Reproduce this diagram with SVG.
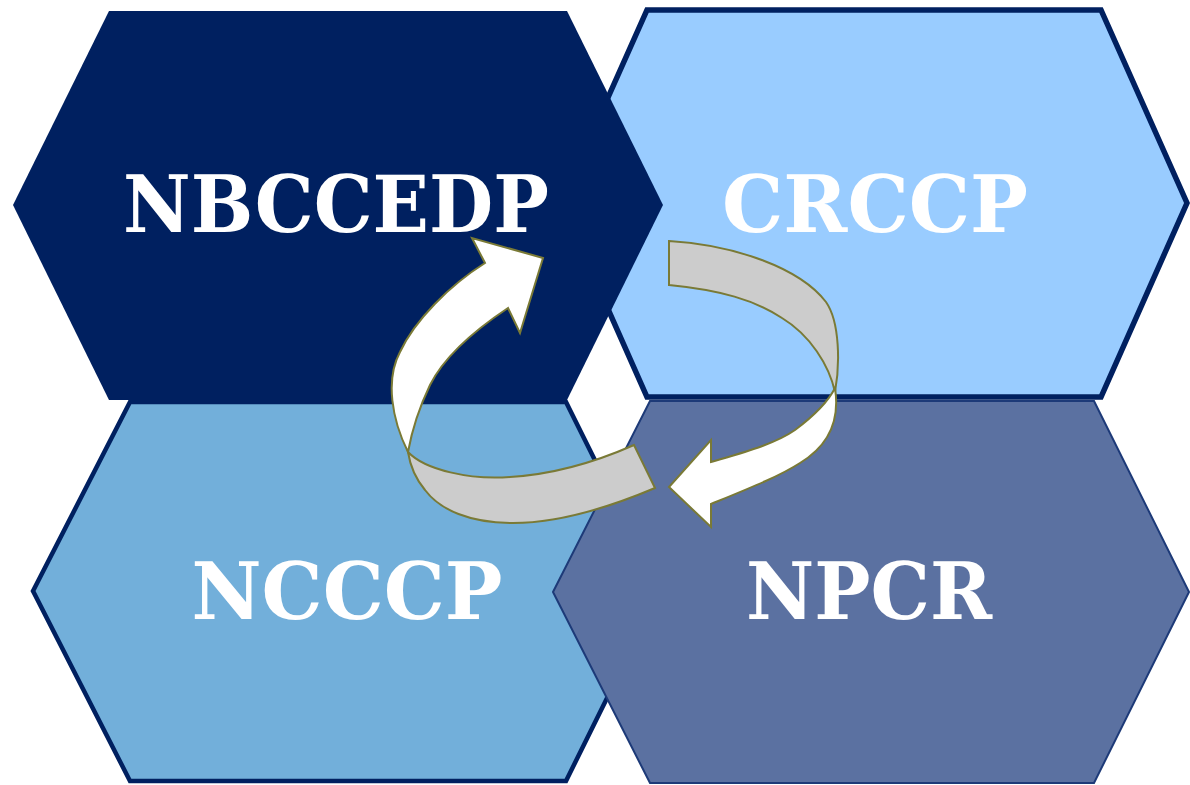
<svg xmlns="http://www.w3.org/2000/svg" width="1190" height="785" viewBox="0 0 1190 785">
  <style>
    .lbl { font-family: "DejaVu Serif", "Liberation Serif", serif; font-weight: bold; font-size: 78px; fill: #ffffff; text-anchor: middle; }
    .rib { stroke: #7a7a36; stroke-width: 2; stroke-linejoin: miter; }
    .front { fill: #ffffff; }
    .back { fill: #cccccc; }
  </style>
  <rect width="1190" height="785" fill="#ffffff"/>
  <g id="node-crccp">
    <polygon points="561,203 647,10 1101,10 1187,203 1101,397 647,397" fill="#99ccff" stroke="#002060" stroke-width="5.5"/>
    <text class="lbl" x="875" y="232" textLength="306" lengthAdjust="spacingAndGlyphs">CRCCP</text>
  </g>
  <g id="node-nbccedp">
    <polygon points="13,205 109,11 567,11 663,205 567,400 109,400" fill="#002060"/>
    <text class="lbl" x="336" y="232" textLength="426" lengthAdjust="spacingAndGlyphs">NBCCEDP</text>
  </g>
  <g id="node-ncccp">
    <polygon points="33,591 130,402 566,402 660,591 566,781 130,781" fill="#72afda" stroke="#002060" stroke-width="4.5"/>
    <text class="lbl" x="347" y="619" textLength="311" lengthAdjust="spacingAndGlyphs">NCCCP</text>
  </g>
  <g id="node-npcr">
    <polygon points="553,592 650,401 1094,401 1189,592 1094,783 650,783" fill="#5b71a1" stroke="#1d3a78" stroke-width="2"/>
    <text class="lbl" x="869" y="619" textLength="246" lengthAdjust="spacingAndGlyphs">NPCR</text>
  </g>
  <g id="connectors">
    <!-- left ribbon: back band then front arrow -->
    <path class="rib back" d="M408,452 C425,470 470,480 510,477 C560,474 600,460 634,445 L655,488 C610,507 560,523 513,523 C470,523 440,510 425,490 C415,478 410,465 408,452 Z"/>
    <path class="rib front" d="M408,452 C392,420 385,380 400,352 C415,320 450,285 485,263 L472,238 L543,258 L520,333 L508,308 C475,330 445,355 430,385 C418,410 412,430 408,452 Z"/>
    <!-- right ribbon: back band then front arrow -->
    <path class="rib back" d="M669,241 C735,245 800,268 826,302 C840,322 840,365 835,392 C829,365 810,335 782,318 C755,300 720,290 669,285 Z"/>
    <path class="rib front" d="M835,388 C840,420 830,445 800,463 C780,476 750,488 711,504 L711,527 L669,487 L711,440 L711,462 C745,452 775,444 795,430 C815,415 828,402 835,388 Z"/>
  </g>
</svg>
